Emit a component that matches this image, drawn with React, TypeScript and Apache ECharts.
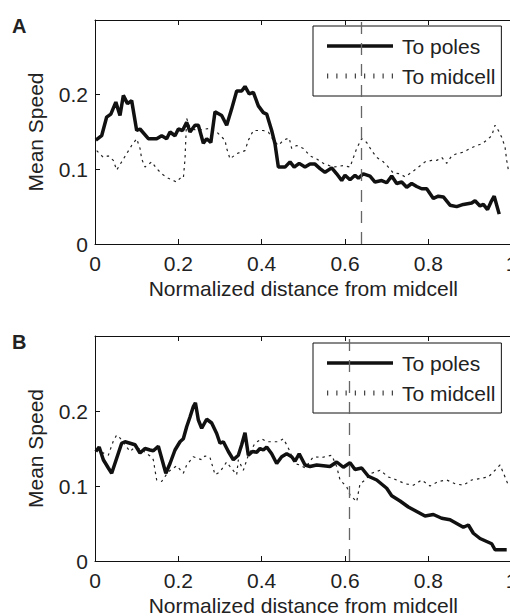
import React, { useEffect, useRef } from "react";
import * as echarts from "echarts";

const FONT = '"Liberation Sans", Arial, Helvetica, sans-serif';

// Panel A – "To poles" (solid)
const aPolesX = [0.002,0.016,0.028,0.038,0.050,0.060,0.068,0.078,0.088,0.100,0.108,0.128,0.148,0.160,0.172,0.180,0.192,0.200,0.210,0.220,0.228,0.240,0.248,0.260,0.268,0.278,0.288,0.304,0.316,0.328,0.340,0.352,0.360,0.370,0.380,0.392,0.404,0.412,0.424,0.432,0.440,0.456,0.468,0.478,0.490,0.504,0.516,0.528,0.540,0.552,0.568,0.580,0.592,0.600,0.612,0.624,0.632,0.644,0.660,0.672,0.688,0.700,0.712,0.724,0.736,0.748,0.760,0.772,0.784,0.796,0.812,0.824,0.836,0.852,0.868,0.884,0.904,0.912,0.924,0.932,0.942,0.950,0.958,0.970];
const aPolesY = [0.139,0.145,0.170,0.174,0.190,0.172,0.199,0.188,0.192,0.152,0.154,0.141,0.141,0.145,0.141,0.150,0.145,0.154,0.152,0.163,0.150,0.159,0.159,0.135,0.141,0.136,0.177,0.172,0.159,0.181,0.205,0.205,0.211,0.201,0.203,0.185,0.176,0.174,0.152,0.134,0.103,0.103,0.110,0.103,0.108,0.103,0.107,0.107,0.101,0.096,0.102,0.094,0.085,0.092,0.086,0.092,0.088,0.094,0.091,0.083,0.085,0.082,0.091,0.081,0.083,0.076,0.081,0.077,0.074,0.074,0.061,0.064,0.063,0.052,0.050,0.053,0.055,0.058,0.051,0.053,0.046,0.056,0.064,0.040];

// Panel A – "To midcell" (dotted)
const aMidX = [0.004,0.020,0.032,0.044,0.052,0.064,0.076,0.088,0.100,0.108,0.112,0.120,0.136,0.148,0.160,0.176,0.196,0.204,0.212,0.214,0.216,0.217,0.218,0.220,0.228,0.244,0.276,0.292,0.312,0.316,0.324,0.340,0.360,0.368,0.380,0.392,0.404,0.416,0.428,0.440,0.452,0.466,0.472,0.484,0.500,0.516,0.532,0.548,0.572,0.596,0.612,0.628,0.640,0.652,0.664,0.676,0.692,0.704,0.716,0.732,0.744,0.760,0.776,0.792,0.808,0.820,0.832,0.844,0.856,0.868,0.884,0.900,0.916,0.928,0.940,0.952,0.960,0.968,0.976,0.984,0.988,0.992];
const aMidY = [0.125,0.116,0.118,0.112,0.099,0.110,0.121,0.132,0.141,0.128,0.114,0.103,0.110,0.101,0.094,0.088,0.083,0.088,0.088,0.101,0.114,0.128,0.141,0.168,0.156,0.152,0.155,0.150,0.139,0.128,0.114,0.121,0.125,0.139,0.152,0.152,0.152,0.150,0.139,0.132,0.139,0.142,0.128,0.132,0.128,0.118,0.114,0.108,0.103,0.105,0.103,0.128,0.141,0.136,0.125,0.116,0.110,0.103,0.095,0.094,0.090,0.096,0.103,0.110,0.112,0.112,0.116,0.108,0.118,0.121,0.123,0.128,0.132,0.134,0.139,0.145,0.159,0.152,0.143,0.130,0.112,0.099];

// Panel B – "To poles" (solid)
const bPolesX = [0.002,0.010,0.020,0.032,0.040,0.052,0.064,0.072,0.084,0.096,0.108,0.120,0.132,0.140,0.152,0.160,0.170,0.180,0.192,0.204,0.212,0.220,0.228,0.236,0.241,0.248,0.256,0.268,0.280,0.292,0.300,0.308,0.320,0.332,0.344,0.352,0.360,0.368,0.378,0.388,0.396,0.404,0.412,0.424,0.436,0.448,0.460,0.472,0.480,0.490,0.504,0.516,0.532,0.548,0.564,0.580,0.596,0.612,0.624,0.640,0.656,0.676,0.700,0.712,0.732,0.752,0.772,0.792,0.812,0.832,0.852,0.868,0.884,0.896,0.908,0.924,0.940,0.952,0.960,0.976,0.988];
const bPolesY = [0.146,0.152,0.135,0.124,0.117,0.137,0.157,0.159,0.157,0.155,0.144,0.150,0.148,0.147,0.153,0.137,0.117,0.130,0.148,0.159,0.163,0.179,0.192,0.206,0.211,0.188,0.177,0.189,0.184,0.170,0.157,0.159,0.146,0.135,0.141,0.155,0.171,0.141,0.146,0.145,0.150,0.148,0.152,0.143,0.130,0.139,0.143,0.139,0.133,0.143,0.128,0.126,0.128,0.127,0.126,0.132,0.125,0.131,0.122,0.124,0.113,0.108,0.097,0.087,0.080,0.072,0.066,0.060,0.062,0.057,0.055,0.050,0.045,0.048,0.037,0.030,0.026,0.023,0.015,0.015,0.015];

// Panel B – "To midcell" (dotted)
const bMidX = [0.004,0.016,0.032,0.044,0.052,0.060,0.072,0.084,0.092,0.108,0.120,0.132,0.140,0.144,0.148,0.160,0.176,0.196,0.212,0.220,0.236,0.256,0.264,0.276,0.288,0.300,0.316,0.324,0.340,0.344,0.356,0.368,0.384,0.400,0.412,0.424,0.440,0.452,0.460,0.468,0.478,0.492,0.504,0.524,0.544,0.568,0.580,0.588,0.604,0.612,0.628,0.636,0.648,0.664,0.684,0.704,0.724,0.744,0.764,0.784,0.804,0.824,0.844,0.864,0.884,0.904,0.924,0.944,0.960,0.972,0.984,0.992];
const bMidY = [0.150,0.145,0.141,0.160,0.168,0.164,0.155,0.146,0.150,0.150,0.145,0.140,0.135,0.121,0.108,0.106,0.119,0.127,0.117,0.128,0.139,0.135,0.140,0.138,0.115,0.119,0.132,0.126,0.115,0.135,0.121,0.141,0.157,0.163,0.159,0.159,0.159,0.163,0.155,0.146,0.130,0.128,0.124,0.139,0.138,0.141,0.126,0.108,0.099,0.088,0.079,0.103,0.108,0.117,0.121,0.112,0.108,0.103,0.101,0.108,0.100,0.106,0.108,0.103,0.101,0.108,0.110,0.112,0.121,0.128,0.112,0.101];

const xTicks = [0, 0.2, 0.4, 0.6, 0.8, 1];
const yTicks = [0, 0.1, 0.2, 0.3];
const dividerA = 0.64;
const dividerB = 0.61;
const seriesNames = ["To poles", "To midcell"];
const panelLabels = ["A", "B"];

const zip = (xs: number[], ys: number[]) => xs.map((x, i) => [x, ys[i]]);

const SOLID_ICON = "path://M0,0H66V3.5H0Z";
const DOT_ICON =
  "path://" +
  [0, 9, 18, 27, 36, 45, 54, 63]
    .map((x) => `M${x},0h1.2v5h-1.2Z`)
    .join("");

export default function App() {
  const ref = useRef<HTMLDivElement>(null);

  useEffect(() => {
    if (!ref.current) return;
    const chart = echarts.init(ref.current, undefined, { renderer: "svg" });

    const grids = [
      { left: 95, top: 20, width: 416.7, height: 224, outerBoundsMode: "none", containLabel: false },
      { left: 95, top: 336, width: 416.7, height: 225, outerBoundsMode: "none", containLabel: false },
    ];

    const txt = { fontFamily: FONT, fontSize: 21, color: "#222" };
    const axisLine = { show: true, lineStyle: { color: "#111", width: 1 } };

    const xAxes: any[] = [];
    const yAxes: any[] = [];
    [0, 1].forEach((g) => {
      xAxes.push({
        gridIndex: g,
        type: "value",
        min: xTicks[0],
        max: xTicks[xTicks.length - 1],
        interval: xTicks[1] - xTicks[0],
        axisLine,
        axisTick: { inside: true, length: 5, lineStyle: { color: "#111" } },
        axisLabel: { ...txt, margin: 9, hideOverlap: false },
        splitLine: { show: false },
        name: "Normalized distance from midcell",
        nameLocation: "middle",
        nameGap: 34,
        nameTextStyle: txt,
      });
      xAxes.push({
        gridIndex: g,
        type: "value",
        position: "top",
        min: xTicks[0],
        max: xTicks[xTicks.length - 1],
        interval: xTicks[1] - xTicks[0],
        axisLine,
        axisTick: { inside: true, length: 5, lineStyle: { color: "#111" } },
        axisLabel: { show: false },
        splitLine: { show: false },
      });
      yAxes.push({
        gridIndex: g,
        type: "value",
        min: yTicks[0],
        max: yTicks[yTicks.length - 1],
        interval: yTicks[1] - yTicks[0],
        axisLine,
        axisTick: { inside: true, length: 5, lineStyle: { color: "#111" } },
        axisLabel: { ...txt, margin: 7, showMaxLabel: false },
        splitLine: { show: false },
        name: "Mean Speed",
        nameLocation: "middle",
        nameGap: 49,
        nameTextStyle: txt,
      });
    });

    const solid = (data: number[][], g: number) => ({
      name: seriesNames[0],
      type: "line",
      xAxisIndex: g * 2,
      yAxisIndex: g,
      data,
      showSymbol: false,
      symbol: "none",
      color: "#111",
      lineStyle: { color: "#111", width: 3.5 },
      z: 3,
    });
    const dotted = (data: number[][], g: number, divider: number) => ({
      name: seriesNames[1],
      type: "line",
      xAxisIndex: g * 2,
      yAxisIndex: g,
      data,
      showSymbol: false,
      symbol: "none",
      color: "#333",
      lineStyle: { color: "#222", width: 1.2, type: [2.5, 4] },
      z: 2,
      markLine: {
        silent: true,
        symbol: ["none", "none"],
        label: { show: false },
        lineStyle: { color: "#666", width: 1.3, type: [12, 9] },
        data: [{ xAxis: divider }],
      },
    });

    const legend = (top: number) => ({
      orient: "vertical",
      left: 313,
      top,
      itemWidth: 66,
      itemHeight: 6,
      itemGap: 6,
      padding: [8, 6, 8, 14],
      borderColor: "#111",
      borderWidth: 1,
      backgroundColor: "#fff",
      itemStyle: { borderWidth: 0 },
      textStyle: { ...txt, lineHeight: 24, padding: [0, 0, 0, 4] },
      data: [
        { name: seriesNames[0], icon: SOLID_ICON, itemStyle: { color: "#111", borderWidth: 0 } },
        { name: seriesNames[1], icon: DOT_ICON, itemStyle: { color: "#444", borderWidth: 0 } },
      ],
    });

    chart.setOption({
      animation: false,
      backgroundColor: "#fff",
      textStyle: { fontFamily: FONT },
      title: [
        { text: panelLabels[0], left: 7, top: 11, textStyle: { fontFamily: FONT, fontSize: 20, fontWeight: "bold", color: "#222" } },
        { text: panelLabels[1], left: 7, top: 327, textStyle: { fontFamily: FONT, fontSize: 20, fontWeight: "bold", color: "#222" } },
      ],
      grid: grids,
      xAxis: xAxes,
      yAxis: yAxes,
      legend: [legend(26), legend(343)],
      series: [
        solid(zip(aPolesX, aPolesY), 0),
        dotted(zip(aMidX, aMidY), 0, dividerA),
        solid(zip(bPolesX, bPolesY), 1),
        dotted(zip(bMidX, bMidY), 1, dividerB),
      ],
    });

    return () => chart.dispose();
  }, []);

  return (
    <div
      ref={ref}
      style={{ position: "fixed", left: 0, top: 0, width: 510, height: 616 }}
    />
  );
}
